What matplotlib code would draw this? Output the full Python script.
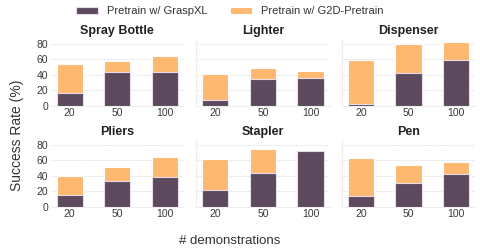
import matplotlib.pyplot as plt
import numpy as np

plt.rcParams['font.family'] = ['Liberation Sans', 'DejaVu Sans']

demos = ['20', '50', '100']
tasks = ['Spray Bottle', 'Lighter', 'Dispenser', 'Pliers', 'Stapler', 'Pen']

# success rate (%) per task for 20 / 50 / 100 demonstrations
graspxl = [
    [17, 44, 44],
    [7, 34.5, 36],
    [2.5, 42, 59],
    [15, 32.5, 38.5],
    [21, 43.5, 71.5],
    [13.5, 31, 42.5],
]
g2d = [
    [54, 58, 64],
    [41, 49, 45.5],
    [59.5, 79.5, 82.5],
    [39, 51, 63.5],
    [61, 74, 72.5],
    [62.5, 54, 58],
]

dark = '#5d4a5e'
orange = '#ffb86f'

fig, axes = plt.subplots(2, 3, figsize=(4.81, 2.49), dpi=100, sharey=True)
fig.subplots_adjust(left=0.105, right=0.988, top=0.845, bottom=0.17,
                    wspace=0.09, hspace=0.5)

x = np.arange(len(demos))
for i, ax in enumerate(axes.flat):
    ax.bar(x, g2d[i], width=0.55, color=orange, edgecolor='white', linewidth=0.8,
           label='Pretrain w/ G2D-Pretrain', zorder=2)
    ax.bar(x, graspxl[i], width=0.55, color=dark, edgecolor='#e6dbe6', linewidth=0.8,
           label='Pretrain w/ GraspXL', zorder=3)
    ax.set_title(tasks[i], fontsize=9, fontweight='bold', pad=3, color='#222222')
    ax.set_xticks(x)
    ax.set_xticklabels(demos)
    ax.set_yticks([0, 20, 40, 60, 80])
    ax.grid(axis='y', linestyle='--', linewidth=0.5, color='#dddddd', zorder=0)
    ax.tick_params(length=0, labelsize=7.5, colors='#3a3a3a', pad=1.5)
    for s in ['top', 'right']:
        ax.spines[s].set_visible(False)
    ax.spines['left'].set_color('#eeeeee')
    ax.spines['bottom'].set_color('#eeeeee')
    ax.spines['left'].set_linewidth(0.8)
    ax.spines['bottom'].set_linewidth(0.8)
    if i % 3 == 0:
        ax.spines['left'].set_visible(False)

handles, labels = axes[0, 0].get_legend_handles_labels()
fig.legend(handles[::-1], labels[::-1], loc='upper center', ncol=2, frameon=False,
           fontsize=8, bbox_to_anchor=(0.478, 1.015), handlelength=2.0,
           handleheight=0.6, columnspacing=2.0, labelcolor='#333333')
fig.supylabel('Success Rate (%)', fontsize=10, x=0.02, y=0.455, color='#333333')
fig.supxlabel('# demonstrations', fontsize=9.5, y=0.01, x=0.478, color='#333333')

fig.savefig('out.png', dpi=100)
